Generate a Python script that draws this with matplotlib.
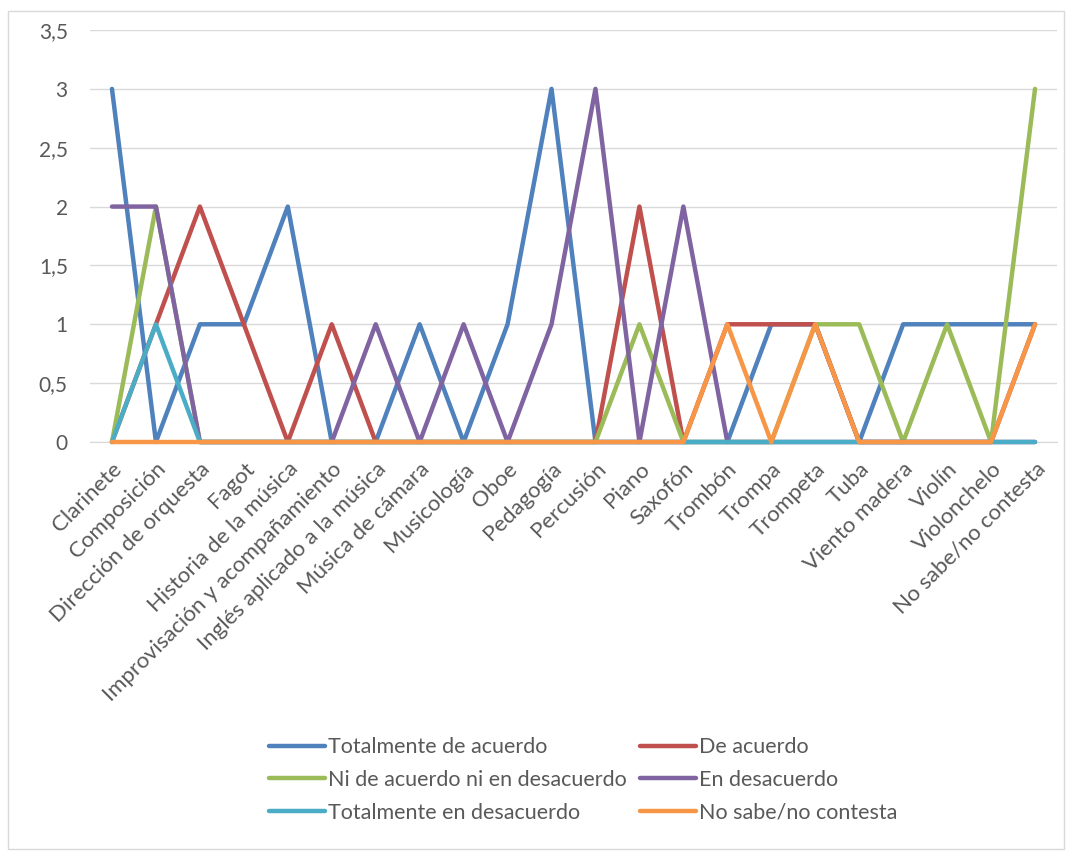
import matplotlib
matplotlib.use("Agg")
import matplotlib.pyplot as plt
from matplotlib.patches import Rectangle

categories = ["Clarinete", "Composición", "Dirección de orquesta", "Fagot",
              "Historia de la música", "Improvisación y acompañamiento",
              "Inglés aplicado a la música", "Música de cámara", "Musicología",
              "Oboe", "Pedagogía", "Percusión", "Piano", "Saxofón", "Trombón",
              "Trompa", "Trompeta", "Tuba", "Viento madera", "Violín",
              "Violonchelo", "No sabe/no contesta"]

tot_acuerdo = [3, 0, 1, 1, 2, 0, 0, 1, 0, 1, 3, 0, 0, 0, 0, 1, 1, 0, 1, 1, 1, 1]
de_acuerdo = [0, 1, 2, 1, 0, 1, 0, 0, 0, 0, 0, 0, 2, 0, 1, 1, 1, 0, 0, 0, 0, 1]
ni_ni = [0, 2, 0, 0, 0, 0, 0, 0, 0, 0, 0, 0, 1, 0, 0, 0, 1, 1, 0, 1, 0, 3]
en_desacuerdo = [2, 2, 0, 0, 0, 0, 1, 0, 1, 0, 1, 3, 0, 2, 0, 0, 0, 0, 0, 0, 0, 0]
tot_desacuerdo = [0, 1, 0, 0, 0, 0, 0, 0, 0, 0, 0, 0, 0, 0, 0, 0, 0, 0, 0, 0, 0, 0]
no_sabe = [0, 0, 0, 0, 0, 0, 0, 0, 0, 0, 0, 0, 0, 0, 1, 0, 1, 0, 0, 0, 0, 1]

series_names = ["Totalmente de acuerdo", "De acuerdo",
                "Ni de acuerdo ni en desacuerdo", "En desacuerdo",
                "Totalmente en desacuerdo", "No sabe/no contesta"]
series_values = [tot_acuerdo, de_acuerdo, ni_ni, en_desacuerdo, tot_desacuerdo, no_sabe]
colors = ["#4F81BD", "#C0504D", "#9BBB59", "#8064A2", "#4BACC6", "#F79646"]

yticks = [0, 0.5, 1, 1.5, 2, 2.5, 3, 3.5]
ytick_labels = ["0", "0,5", "1", "1,5", "2", "2,5", "3", "3,5"]

plt.rcParams['font.family'] = ['Lato', 'DejaVu Sans']
text_color = "#595959"

fig = plt.figure(figsize=(10.72, 8.56), dpi=100)
ax = fig.add_axes([90 / 1072, 1 - 442 / 856, (1057 - 90) / 1072, 412 / 856])

x = list(range(len(categories)))
handles = []
for name, vals, c in zip(series_names, series_values, colors):
    h, = ax.plot(x, vals, color=c, lw=3.2, solid_capstyle='round',
                 solid_joinstyle='round', label=name, clip_on=False)
    handles.append(h)

ax.set_xlim(-0.5, len(categories) - 0.5)
ax.set_ylim(0, 3.5)
ax.set_yticks(yticks)
ax.set_yticklabels(ytick_labels, fontsize=15, color=text_color)
ax.set_xticks(x)
ax.set_xticklabels(categories, rotation=45, ha='right', rotation_mode='anchor',
                   fontsize=16, color=text_color)
ax.tick_params(axis='y', length=0, pad=16)
ax.tick_params(axis='x', length=0, pad=12)
ax.grid(axis='y', color='#D9D9D9', lw=1)
ax.set_axisbelow(True)
for s in ['top', 'right', 'left']:
    ax.spines[s].set_visible(False)
ax.spines['bottom'].set_color('#D9D9D9')
ax.spines['bottom'].set_zorder(0.5)

order = [0, 2, 4, 1, 3, 5]
leg = fig.legend(handles=[handles[i] for i in order],
                 labels=[series_names[i] for i in order],
                 loc='center', bbox_to_anchor=(583 / 1072, 1 - 780 / 856),
                 ncol=2, frameon=False, fontsize=15.5, handlelength=2.6,
                 handletextpad=0.15, columnspacing=0.6, labelspacing=0.6)
for t in leg.get_texts():
    t.set_color(text_color)

fig.patches.append(Rectangle((8 / 1072, 1 - 849 / 856), 1056 / 1072, 838 / 856,
                             transform=fig.transFigure, fill=False,
                             edgecolor='#D9D9D9', lw=1))

fig.savefig("out.png", dpi=100, facecolor='white')
